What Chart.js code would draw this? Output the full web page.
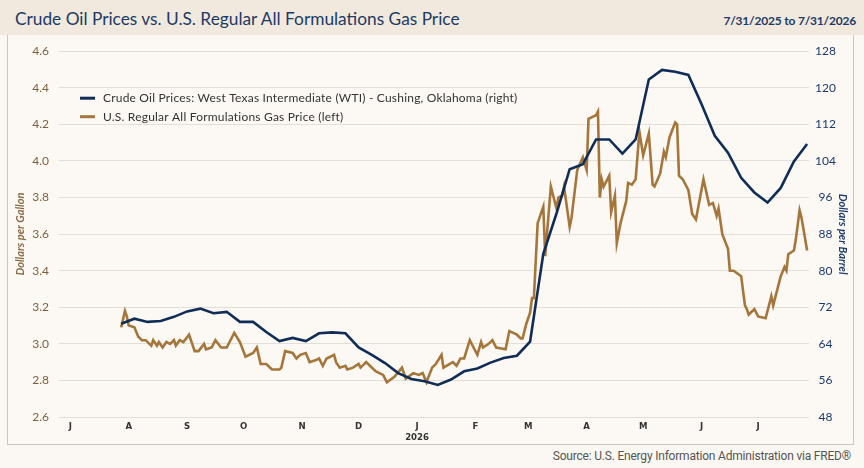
<!DOCTYPE html>
<html>
<head>
<meta charset="utf-8">
<script src="https://cdn.jsdelivr.net/npm/chart.js@4.4.1/dist/chart.umd.min.js"></script>
<style>
  body { margin: 0; width: 864px; height: 468px; overflow: hidden; position: relative; background: #fbf8f3; font-family: Lato, "Open Sans", sans-serif; }
  #head { position: absolute; left: 0; top: 0; width: 864px; height: 35px; background: #f1e9de; }
  #title { position: absolute; left: 15px; top: 8px; font-size: 17.3px; color: #1c3a66; white-space: nowrap; }
  #range { position: absolute; right: 8px; top: 13px; font-size: 12px; font-weight: bold; color: #1c3a66; white-space: nowrap; letter-spacing: -0.2px; }
  #box { position: absolute; left: 7px; top: 35px; width: 845px; height: 409px; border: 1px solid #c9c6c1; border-top: none; background: #fcf9f4; }
  #wrap { position: absolute; left: 0; top: -1px; width: 845px; height: 410px; }
  #source { position: absolute; right: 13px; top: 449px; font-size: 12px; letter-spacing: -0.2px; color: #555; font-family: Roboto, sans-serif; white-space: nowrap; }
</style>
</head>
<body>
<div id="head">
  <div id="title">Crude Oil Prices vs. U.S. Regular All Formulations Gas Price</div>
  <div id="range">7/31/2025 to 7/31/2026</div>
</div>
<div id="box"><div id="wrap"><canvas id="chart"></canvas></div></div>
<div id="source">Source: U.S. Energy Information Administration via FRED®</div>

<script>
// --- Data ---
const oilDates = [
  "2025-07-28","2025-08-04","2025-08-11","2025-08-18","2025-08-25",
  "2025-09-01","2025-09-08","2025-09-15","2025-09-22","2025-09-29",
  "2025-10-06","2025-10-13","2025-10-20","2025-10-27",
  "2025-11-03","2025-11-10","2025-11-17","2025-11-24",
  "2025-12-01","2025-12-08","2025-12-15","2025-12-22","2025-12-29",
  "2026-01-05","2026-01-12","2026-01-19","2026-01-26",
  "2026-02-02","2026-02-09","2026-02-16","2026-02-23",
  "2026-03-02","2026-03-09","2026-03-16","2026-03-23","2026-03-30",
  "2026-04-06","2026-04-13","2026-04-20","2026-04-27",
  "2026-05-04","2026-05-11","2026-05-18","2026-05-25",
  "2026-06-01","2026-06-08","2026-06-15","2026-06-22","2026-06-29",
  "2026-07-06","2026-07-13","2026-07-20","2026-07-27"
];
const oilValues = [
  68.4, 69.5, 68.8, 69.0, 69.9,
  71.1, 71.7, 70.7, 71.0, 68.8,
  68.8, 66.6, 64.6, 65.3,
  64.6, 66.3, 66.5, 66.3,
  63.2, 61.6, 59.8, 57.6, 56.3,
  55.8, 55.0, 56.2, 58.0,
  58.6, 59.9, 60.9, 61.4,
  64.5, 83.7, 92.5, 102.2, 103.3,
  108.7, 108.7, 105.6, 108.7,
  121.8, 123.9, 123.5, 122.8,
  116.4, 109.5, 105.8, 100.3, 97.1,
  94.9, 98.1, 103.9, 107.7
];

const gasDates = [
  "2025-07-28","2025-07-30","2025-07-31","2025-08-01","2025-08-04","2025-08-06","2025-08-08","2025-08-10",
  "2025-08-12","2025-08-13","2025-08-14","2025-08-16","2025-08-17","2025-08-19","2025-08-21","2025-08-23",
  "2025-08-25","2025-08-26","2025-08-28","2025-08-30","2025-09-02","2025-09-05","2025-09-07","2025-09-10",
  "2025-09-11","2025-09-14","2025-09-16","2025-09-19","2025-09-22","2025-09-26","2025-09-29","2025-10-02",
  "2025-10-06","2025-10-08","2025-10-10","2025-10-13","2025-10-16","2025-10-20","2025-10-21","2025-10-23",
  "2025-10-27","2025-10-29","2025-10-31","2025-11-03","2025-11-05","2025-11-08","2025-11-10","2025-11-12",
  "2025-11-14","2025-11-18","2025-11-19","2025-11-21","2025-11-24","2025-11-25","2025-11-28","2025-12-01",
  "2025-12-02","2025-12-05","2025-12-07","2025-12-10","2025-12-12","2025-12-14","2025-12-16","2025-12-20",
  "2025-12-24","2025-12-26","2025-12-30","2026-01-02","2026-01-04","2026-01-06","2026-01-09","2026-01-11",
  "2026-01-14","2026-01-15","2026-01-20","2026-01-22","2026-01-24","2026-01-26","2026-01-29","2026-02-02",
  "2026-02-04","2026-02-05","2026-02-08","2026-02-10","2026-02-12","2026-02-17","2026-02-19","2026-02-23",
  "2026-02-25","2026-02-26","2026-02-28","2026-03-02","2026-03-03","2026-03-04","2026-03-06","2026-03-09",
  "2026-03-10","2026-03-13","2026-03-16","2026-03-17","2026-03-19","2026-03-20","2026-03-23","2026-03-24",
  "2026-03-27","2026-03-30","2026-04-01","2026-04-02","2026-04-06","2026-04-07","2026-04-08","2026-04-09",
  "2026-04-10","2026-04-13","2026-04-14","2026-04-16","2026-04-17","2026-04-19","2026-04-22","2026-04-23",
  "2026-04-25","2026-04-27","2026-04-29","2026-05-01","2026-05-04","2026-05-06","2026-05-07","2026-05-10",
  "2026-05-12","2026-05-13","2026-05-15","2026-05-18","2026-05-19","2026-05-20","2026-05-22","2026-05-25",
  "2026-05-27","2026-05-29","2026-06-02","2026-06-05","2026-06-07","2026-06-09","2026-06-10","2026-06-12",
  "2026-06-15","2026-06-16","2026-06-18","2026-06-22","2026-06-24","2026-06-25","2026-06-26","2026-06-27",
  "2026-06-29","2026-07-01","2026-07-05","2026-07-08","2026-07-09","2026-07-13","2026-07-15","2026-07-16",
  "2026-07-17","2026-07-20","2026-07-21","2026-07-23","2026-07-24","2026-07-27"
];
const gasValues = [
  3.09, 3.18, 3.15, 3.10, 3.09, 3.04, 3.02, 3.02,
  3.00, 2.99, 3.02, 2.99, 3.01, 2.98, 3.01, 3.00,
  3.02, 2.99, 3.02, 3.01, 3.05, 2.96, 2.96, 3.00,
  2.97, 2.98, 3.02, 2.98, 2.98, 3.06, 3.01, 2.93,
  2.95, 2.98, 2.89, 2.89, 2.86, 2.86, 2.87, 2.96,
  2.95, 2.92, 2.94, 2.95, 2.90, 2.91, 2.92, 2.88,
  2.92, 2.94, 2.90, 2.87, 2.88, 2.86, 2.87, 2.89,
  2.87, 2.90, 2.88, 2.85, 2.84, 2.83, 2.79, 2.82,
  2.87, 2.81, 2.84, 2.83, 2.84, 2.79, 2.87, 2.89,
  2.94, 2.87, 2.90, 2.88, 2.92, 2.92, 3.02, 2.94,
  3.01, 2.98, 3.00, 3.02, 2.98, 2.97, 3.07, 3.05,
  3.03, 3.03, 3.11, 3.17, 3.25, 3.25, 3.66, 3.75,
  3.48, 3.86, 3.74, 3.80, 3.81, 3.86, 3.64, 3.69,
  3.95, 4.02, 3.95, 4.23, 4.25, 4.27, 3.80, 3.90,
  3.86, 3.92, 3.72, 3.81, 3.55, 3.66, 3.78, 3.88,
  3.87, 3.90, 4.16, 4.03, 4.15, 3.87, 3.86, 3.93,
  4.05, 4.02, 4.13, 4.21, 4.20, 3.92, 3.90, 3.84,
  3.71, 3.68, 3.90, 3.76, 3.77, 3.70, 3.74, 3.60,
  3.52, 3.40, 3.40, 3.37, 3.21, 3.19, 3.16, 3.17,
  3.19, 3.15, 3.14, 3.26, 3.21, 3.37, 3.42, 3.40,
  3.49, 3.51, 3.57, 3.73, 3.69, 3.51
];

const monthTicks = ["2025-07-01","2025-08-01","2025-09-01","2025-10-01","2025-11-01","2025-12-01",
  "2026-01-01","2026-02-01","2026-03-01","2026-04-01","2026-05-01","2026-06-01","2026-07-01"];
const monthLabels = ["J","A","S","O","N","D",["J","2026"],"F","M","A","M","J","J"];
const gasTicks = [2.6, 2.8, 3.0, 3.2, 3.4, 3.6, 3.8, 4.0, 4.2, 4.4, 4.6];
const oilTicks = [48, 56, 64, 72, 80, 88, 96, 104, 112, 120, 128];

const seriesNames = [
  "Crude Oil Prices: West Texas Intermediate (WTI) - Cushing, Oklahoma (right)",
  "U.S. Regular All Formulations Gas Price (left)"
];

const NAVY = "#0f2d56";
const BROWN = "#a5763b";

// days since 2025-07-01
const day0 = Date.UTC(2025, 6, 1);
const toDay = s => (Date.parse(s) - day0) / 864e5;

const oilPoints = oilDates.map((d, i) => ({ x: toDay(d), y: oilValues[i] }));
const gasPoints = gasDates.map((d, i) => ({ x: toDay(d), y: gasValues[i] }));

// legend drawn inside the plot, stacked
const insideLegend = {
  id: "insideLegend",
  afterDatasetsDraw(chart) {
    const { ctx, chartArea } = chart;
    const colors = [NAVY, BROWN];
    ctx.save();
    ctx.font = "12px Lato, sans-serif";
    ctx.letterSpacing = "0.2px";
    ctx.textBaseline = "middle";
    seriesNames.forEach((name, i) => {
      const y = chartArea.top + 47 + i * 18.5;
      ctx.strokeStyle = colors[i];
      ctx.lineWidth = 3;
      ctx.beginPath();
      ctx.moveTo(chartArea.left + 21, y);
      ctx.lineTo(chartArea.left + 36, y);
      ctx.stroke();
      ctx.fillStyle = "#333";
      ctx.fillText(name, chartArea.left + 44, y);
    });
    ctx.restore();
  }
};

const ctx = document.getElementById("chart").getContext("2d");
const chart = new Chart(ctx, {
  type: "line",
  data: {
    datasets: [
      {
        label: seriesNames[0],
        data: oilPoints,
        yAxisID: "yRight",
        borderColor: NAVY,
        borderWidth: 2.6,
        pointRadius: 0,
        tension: 0
      },
      {
        label: seriesNames[1],
        data: gasPoints,
        yAxisID: "yLeft",
        borderColor: BROWN,
        borderWidth: 2.6,
        pointRadius: 0,
        tension: 0
      }
    ]
  },
  options: {
    responsive: true,
    maintainAspectRatio: false,
    animation: false,
    layout: { padding: { top: 16, left: 0, right: 0, bottom: 0 } },
    plugins: {
      legend: { display: false },
      tooltip: { enabled: false }
    },
    scales: {
      x: {
        type: "linear",
        min: toDay("2025-06-25"),
        max: toDay("2026-07-28"),
        afterBuildTicks: axis => { axis.ticks = monthTicks.map(s => ({ value: toDay(s) })); },
        afterFit: axis => { axis.height = 27; },
        grid: { display: false, drawTicks: false },
        border: { display: false },
        ticks: {
          autoSkip: false,
          maxRotation: 0,
          padding: 4,
          color: "#333",
          font: { family: "'Liberation Sans Narrow', 'DejaVu Sans Condensed', Roboto, sans-serif", size: 9.5, weight: "bold", lineHeight: 1.15 },
          callback: (v, i) => monthLabels[i]
        }
      },
      yLeft: {
        position: "left",
        min: 2.6,
        max: 4.6,
        afterBuildTicks: axis => { axis.ticks = gasTicks.map(v => ({ value: v })); },
        afterFit: axis => { axis.width = 51; },
        grid: { color: "#e2ded8", lineWidth: 1, drawTicks: false },
        border: { display: false },
        ticks: {
          padding: 10,
          color: "#7d5e3c",
          font: { family: "Lato, sans-serif", size: 12 },
          callback: v => v.toFixed(1)
        },
        title: {
          display: true,
          text: "Dollars per Gallon",
          color: "#8a6a45",
          padding: { top: 6, bottom: 0 },
          font: { family: "Lato, sans-serif", size: 11, style: "italic", weight: "bold" }
        }
      },
      yRight: {
        position: "right",
        min: 48,
        max: 128,
        afterBuildTicks: axis => { axis.ticks = oilTicks.map(v => ({ value: v })); },
        afterFit: axis => { axis.width = 44; },
        grid: { display: false, drawTicks: false },
        border: { display: false },
        ticks: {
          padding: 6,
          crossAlign: "center",
          color: "#1c3a6b",
          font: { family: "Lato, sans-serif", size: 12 }
        },
        title: {
          display: true,
          text: "Dollars per Barrel",
          color: "#1c3a6b",
          padding: { top: 4, bottom: 0 },
          font: { family: "Lato, sans-serif", size: 11, style: "italic", weight: "bold" }
        }
      }
    }
  },
  plugins: [insideLegend]
});
</script>
</body>
</html>
